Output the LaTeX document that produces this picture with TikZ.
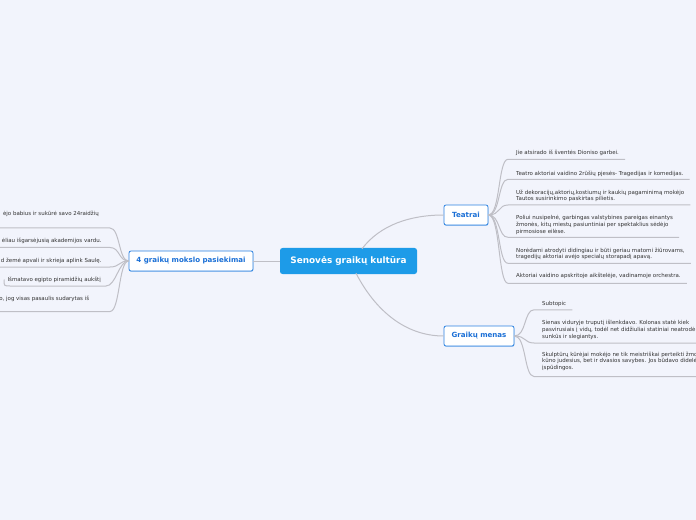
\documentclass[tikz,border=0pt]{standalone}
\usepackage{fontspec}
\setmainfont{DejaVu Sans}
\usetikzlibrary{calc,shadows}
\definecolor{bg}{HTML}{F2F4FC}
\definecolor{cblue}{HTML}{1D9BE8}
\definecolor{bblue}{HTML}{2C82E0}
\definecolor{tblue}{HTML}{1A6FD6}
\definecolor{conn}{HTML}{BFBFC6}
\definecolor{txt}{HTML}{333333}
\begin{document}
\begin{tikzpicture}[x=1bp,y=-1bp,
  central/.style={fill=cblue, rounded corners=2.5bp, minimum width=137bp, minimum height=26bp, inner sep=0pt, text=white, font=\fontsize{8.9}{10}\selectfont\bfseries},
  topic/.style={fill=white, draw=bblue, line width=0.8bp, rounded corners=2bp, minimum height=20bp, inner sep=0pt, text=tblue, font=\fontsize{7.1}{8}\selectfont\bfseries, drop shadow={shadow xshift=0.3bp, shadow yshift=-0.9bp, opacity=0.35, fill=bblue}},
  item/.style={inner sep=0pt, text=txt, align=left, font=\fontsize{5.5}{6.65}\selectfont},
  link/.style={draw=conn, line width=1bp},
]
\useasboundingbox (0,0) rectangle (696,520);
\fill[bg] (0,0) rectangle (696,520);
\clip (0,0) rectangle (696,520);

% main nodes
\node[central] (c) at (348.5,261) {Senovės graikų kultūra};
\node[topic, minimum width=44bp] (teatrai) at (466,215) {Teatrai};
\node[topic, minimum width=70bp] (menas) at (479,336) {Graikų menas};
\node[topic, minimum width=124bp] (mokslo) at (191,261) {4 graikų mokslo pasiekimai};

% main connectors
\draw[link] (c.west) -- (mokslo.east);
\draw[link] ($(c.north)+(13.5,1)$) .. controls (380,225) and (410,215) .. (teatrai.west);
\draw[link] ($(c.south)+(7.5,-1)$) .. controls (375,310) and (405,336) .. (menas.west);

% Teatrai items (anchor = baseline of last line)
\node[item, anchor=base west] (t1) at (516,155) {Jie atsirado iš šventės Dioniso garbei.};
\node[item, anchor=base west] (t2) at (516,175.1) {Teatro aktoriai vaidino 2rūšių pjesės- Tragedijas ir komedijas.};
\node[item, anchor=base west] (t3) at (516,200.75) {Už dekoracijų,aktorių,kostiumų ir kaukių pagaminimą mokėjo\\Tautos susirinkimo paskirtas pilietis.};
\node[item, anchor=base west] (t4) at (516,233.1) {Poliui nusipelnė, garbingas valstybines pareigas einantys\\žmonės, kitų miestų pasiuntiniai per spektaklius sėdėjo\\pirmosiose eilėse.};
\node[item, anchor=base west] (t5) at (516,258.75) {Norėdami atrodyti didingiau ir būti geriau matomi žiūrovams,\\tragedijų aktoriai avėjo specialų storapadį apavą.};
\node[item, anchor=base west] (t6) at (516,277.8) {Aktoriai vaidino apskritoje aikštelėje, vadinamoje orchestra.};
\coordinate (t1u) at (508,159.3);
\coordinate (t2u) at (508,179.3);
\coordinate (t3u) at (508,205);
\coordinate (t4u) at (508,237.3);
\coordinate (t5u) at (508,263.3);
\coordinate (t6u) at (508,283.3);
\foreach \i in {1,...,6}{
  \draw[link] (teatrai.east) .. controls +(12,0) and +(-10,0) .. (t\i u) -- ($(t\i u -| t\i.east)+(6,0)$);
}

% Graiku menas items
\node[item, anchor=base west] (g1) at (542,305.8) {Subtopic};
\node[item, anchor=base west] (g2) at (542,338.1) {Sienas viduryje truputį išlenkdavo. Kolonas statė kiek\\pasvirusiais į vidų, todėl net didžiuliai statiniai neatrodė\\sunkūs ir slegiantys.};
\node[item, anchor=base west] (g3) at (542,369.3) {Skulptūrų kūrėjai mokėjo ne tik meistriškai perteikti žmogaus\\kūno judesius, bet ir dvasios savybes. Jos būdavo didelės ir\\įspūdingos.};
\coordinate (g1u) at (534,309.8);
\coordinate (g2u) at (534,343);
\coordinate (g3u) at (534,376.5);
\foreach \i in {1,2,3}{
  \draw[link] (menas.east) .. controls +(12,0) and +(-10,0) .. (g\i u) -- ($(g\i u -| g\i.east)+(6,0)$);
}

% Mokslo items (left)
\node[item, anchor=base east] (l1) at (99,216) {ėjo babius ir sukūrė savo 24raidžių};
\node[item, anchor=base east] (l2) at (101.7,242.5) {ėliau išgarsėjusią akademijos vardu.};
\node[item, anchor=base east] (l3) at (101.7,262.8) {d žemė apvali ir skrieja aplink Saulę.};
\node[item, anchor=base east] (l4) at (101,281.8) {Išmatavo egipto piramidžių aukštį};
\node[item, anchor=base east] (l5) at (89.3,300.8) {o, jog visas pasaulis sudarytas iš};
\coordinate (l1u) at (110,228);
\coordinate (l2u) at (110,247.5);
\coordinate (l3u) at (110,267);
\coordinate (l4u) at (106,286);
\coordinate (l5u) at (110,311.5);
\coordinate (lfar) at (-5,0);
\foreach \i in {1,2,3,5}{
  \draw[link] (mokslo.west) .. controls +(-10,0) and +(10,0) .. (l\i u) -- (l\i u -| lfar);
}
\coordinate (l4far) at (4,279.5);
\draw[link] (mokslo.west) .. controls +(-10,0) and +(10,0) .. (l4u) -- (l4u -| 10,0) .. controls (l4far |- l4u) .. (l4far);
\end{tikzpicture}
\end{document}
